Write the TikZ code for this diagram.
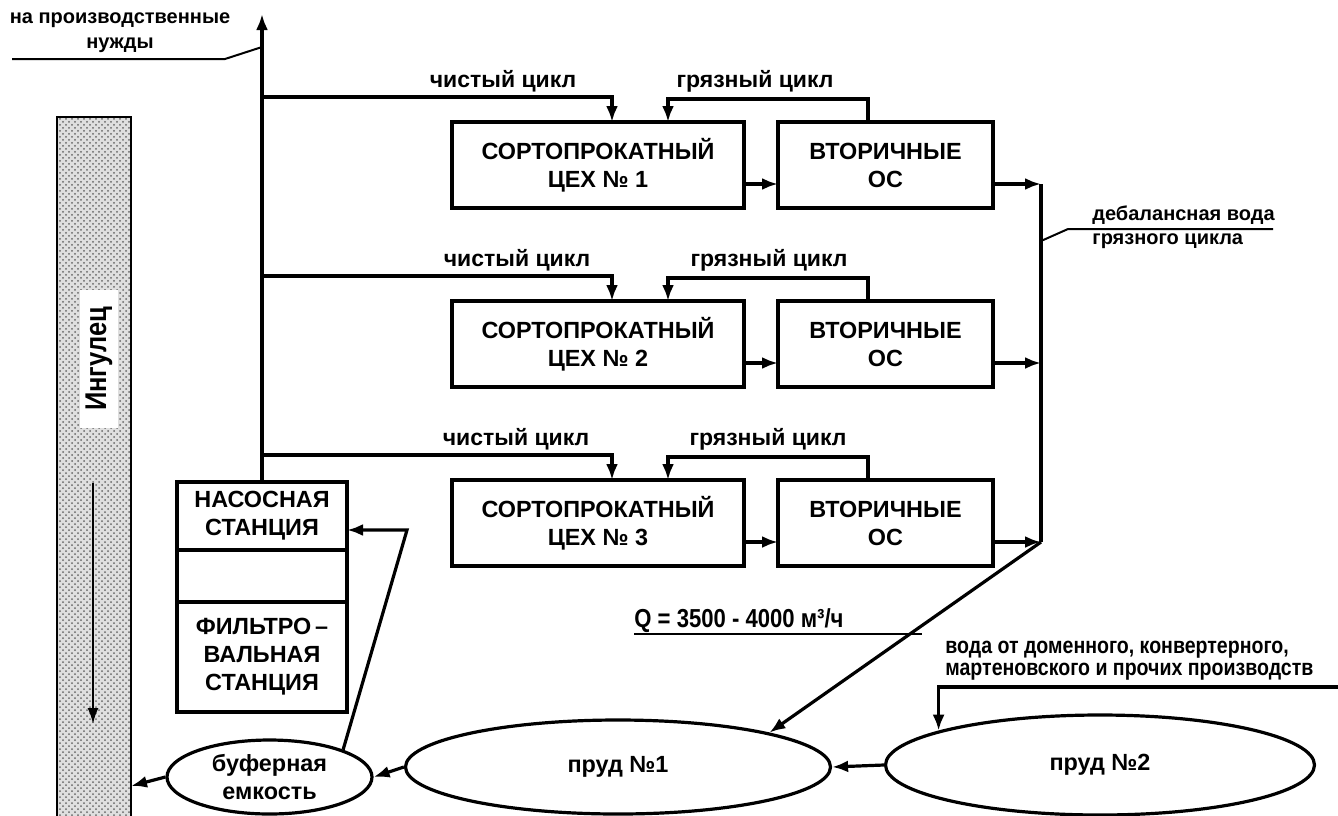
\documentclass[tikz,border=0pt]{standalone}
\usepackage{fontspec}
\setmainfont{Liberation Sans}
\newfontfamily\narrowsans{Liberation Sans}[FakeStretch=0.85]
\usetikzlibrary{arrows.meta,positioning,shapes.geometric,patterns}

\newcommand{\boxfont}{\fontsize{11.7}{14}\selectfont\bfseries}
\newcommand{\lblfont}{\fontsize{10}{12.5}\selectfont\bfseries}
\newcommand{\cycfont}{\fontsize{11.5}{13}\selectfont\bfseries}
\newcommand{\narrowfont}{\narrowsans\fontsize{11.5}{11}\selectfont\bfseries}

\tikzset{
  unit/.style={draw,line width=1.6pt,align=center,font=\boxfont,inner sep=0pt,outer sep=0pt},
  cexbox/.style={unit,minimum width=146pt,minimum height=43pt},
  vtbox/.style={unit,minimum width=107.5pt,minimum height=43pt},
  nasbox/.style={unit,minimum width=85pt},
  pond/.style={ellipse,draw,line width=1.6pt,align=center,font=\boxfont,inner sep=0pt},
  flow/.style={line width=1.6pt,-{Latex[length=8pt,width=6pt]}},
  lead/.style={line width=1pt},
  lbl/.style={font=\lblfont,inner sep=0pt},
  cyc/.style={font=\cycfont,inner sep=0pt}
}

\begin{document}
\begin{tikzpicture}[x=0.5pt,y=-0.5pt]
  \useasboundingbox (0,0) rectangle (1338,815);
  % river
  \node[draw,line width=0.8pt,preaction={fill=gray!25},pattern=crosshatch dots,pattern color=gray!80!black,
        minimum width=37pt,minimum height=352pt,inner sep=0pt] (river) at (94,469) {};
  \node[fill=white,rotate=90,minimum width=69pt,minimum height=19pt,inner sep=0pt,
        font=\narrowsans\fontsize{15}{15}\selectfont\bfseries] (ingul) at (99,359) {Ингулец};
  \coordinate (flowtop) at (93,483);
  \coordinate (flowbot) at (93,724);
  \draw[line width=1.1pt,-{Latex[length=8pt,width=5.5pt]}] (flowtop) -- (flowbot);

  % pumping and filter station
  \node[nasbox,minimum height=34pt] (nas1) at (262,516) {НАСОСНАЯ\\СТАНЦИЯ};
  \node[nasbox,minimum height=26pt,below=0pt of nas1] (nas2) {};
  \node[nasbox,minimum height=55pt,below=0pt of nas2] (nas3) {ФИЛЬТРО\,–\\ВАЛЬНАЯ\\СТАНЦИЯ};

  \coordinate (up) at (262,14);
  \draw[flow] (nas1.north) -- (up);
  \node[lbl,align=center] (prod) at (120,33) {на производственные\\нужды};
  \coordinate (prodl) at (12,59);
  \coordinate (prodr) at (225,59);
  \coordinate (prodtip) at (262,47);
  \draw[lead] (prodl) -- (prodr) -- (prodtip);

  % rolling mills
  \foreach \r/\y/\lx in {1/165/0,2/344/14,3/523/13}{
    \node[cexbox] (cex\r) at (598,\y) {СОРТОПРОКАТНЫЙ\\ЦЕХ № \r};
    \node[vtbox] (vt\r) at (885.5,\y) {ВТОРИЧНЫЕ\\ОС};
    \coordinate (br\r) at (262,\y-68);
    \coordinate (gz\r) at (668,\y-66);
    \coordinate (col\r) at (1041,\y+19);
    \node[cyc,anchor=base] (cl\r) at (503+\lx,\y-78) {чистый цикл};
    \node[cyc,anchor=base] (dl\r) at (755+\lx,\y-78) {грязный цикл};
    \draw[flow] (br\r) -| ([xshift=7pt]cex\r.north);
    \draw[flow] ([xshift=-8.75pt]vt\r.north) |- (gz\r) -- (gz\r |- cex\r.north);
    \draw[flow] ([yshift=-9.5pt]cex\r.east) -- ([yshift=-9.5pt]vt\r.west);
    \draw[flow] ([yshift=-9.5pt]vt\r.east) -- (col\r);
  }

  % ponds
  \node[pond,minimum width=212.5pt,minimum height=47pt] (pond1) at (618,767) {пруд №1};
  \node[pond,minimum width=214.5pt,minimum height=50pt] (pond2) at (1100,765) {пруд №2};
  \node[pond,minimum width=102.5pt,minimum height=37pt] (buf) at (269.5,777) {буферная\\емкость};

  \draw[line width=1.6pt] (col1) -- (col3);
  \draw[flow] (col3) -- (pond1.north east);
  \node[lbl,anchor=base west] (deb1) at (1092,220) {дебалансная вода};
  \node[lbl,anchor=base west] (deb2) at (1092,244) {грязного цикла};
  \coordinate (debtip) at (1041,241);
  \coordinate (debl) at (1068,229);
  \coordinate (debr) at (1273,229);
  \draw[lead] (debtip) -- (debl) -- (debr);

  \node[anchor=base west,inner sep=0pt,font=\narrowsans\fontsize{13}{13}\selectfont\bfseries] (qlab) at (634,627) {Q = 3500 - 4000 м³/ч};
  \coordinate (ql) at (634,634);
  \coordinate (qr) at (922,634);
  \draw[lead] (ql) -- (qr);

  \node[anchor=west,align=left,inner sep=0pt,font=\narrowfont] (voda) at (945,661)
    {вода от доменного, конвертерного,\\мартеновского и прочих производств};
  \coordinate (vodain) at (1338,687);
  \draw[flow] (vodain) -| (pond2.168);

  \draw[flow] (pond2.west) -- (pond1.east);
  \draw[flow] (pond1.west) -- (buf.east);
  \coordinate (rivin) at (131,786);
  \draw[flow] (buf.west) -- (rivin);
  \coordinate (nasbend) at (407,530);
  \draw[flow] (buf.north east) -- (nasbend) -- (nas1.east |- nasbend);
\end{tikzpicture}
\end{document}
